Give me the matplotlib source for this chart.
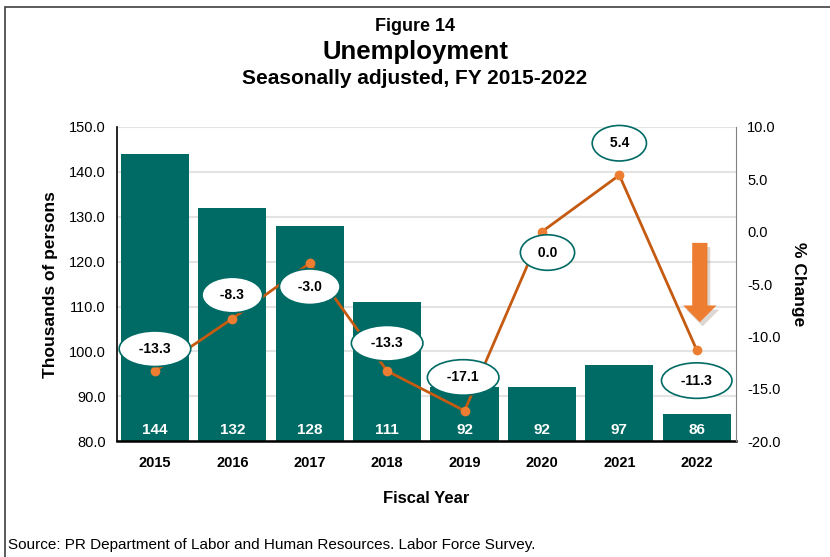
import numpy as np
import matplotlib.pyplot as plt
import matplotlib.patheffects as pe
from matplotlib.patches import Rectangle

plt.rcParams['font.family'] = ['Liberation Sans', 'DejaVu Sans']

years = ['2015', '2016', '2017', '2018', '2019', '2020', '2021', '2022']
unemployed = [144, 132, 128, 111, 92, 92, 97, 86]
pct_change = [-13.3, -8.3, -3.0, -13.3, -17.1, 0.0, 5.4, -11.3]
# label offsets (points) for the ellipse callouts
label_dx = [0, 0, 0, 0, -1, 4, 0, 0]
label_dy = [16, 17, -17, 20, 24, -15, 23, -22]

bar_color = '#006A64'
line_color = '#C55A11'
marker_color = '#ED7D31'

fig = plt.figure(figsize=(8.3, 5.57), dpi=100)
ax = fig.add_axes([0.141, 0.208, 0.746, 0.564])
x = np.arange(len(years))

bars = ax.bar(x, unemployed, width=0.88, color=bar_color, zorder=2)
for xi, v in zip(x, unemployed):
    ax.text(xi, 81.0, f'{v}', ha='center', va='bottom', color='white',
            fontsize=11, fontweight='bold', zorder=3)

ax.set_ylim(80, 150)
ax.set_yticks(np.arange(80, 151, 10))
ax.set_yticklabels([f'{t:.1f}' for t in np.arange(80, 151, 10)], fontsize=10.5)
ax.set_xlim(-0.49, 7.51)
ax.set_xticks(x)
ax.set_xticklabels(years, fontsize=10.5, fontweight='bold')
ax.tick_params(axis='x', length=0, pad=11)
ax.tick_params(axis='y', length=0, pad=8)
ax.grid(axis='y', color='#E3E3E3', linewidth=1.5, zorder=0)
ax.set_axisbelow(True)
for s in ['top', 'right']:
    ax.spines[s].set_visible(False)
ax.spines['left'].set_linewidth(1.2)
ax.spines['bottom'].set_linewidth(1.8)
ax.set_ylabel('Thousands of persons', fontsize=12.5, fontweight='bold', labelpad=8)
ax.set_xlabel('Fiscal Year', fontsize=12, fontweight='bold', labelpad=15)

ax2 = ax.twinx()
ax2.set_ylim(-20, 10)
ax2.set_yticks(np.arange(-20, 11, 5))
ax2.set_yticklabels([f'{t:.1f}' for t in np.arange(-20, 11, 5)], fontsize=10.5)
ax2.tick_params(axis='y', length=0, pad=8)
for s in ['top', 'left', 'bottom']:
    ax2.spines[s].set_visible(False)
ax2.spines['right'].set_color('#808080')
ax2.set_ylabel('% Change', fontsize=12.5, fontweight='bold', rotation=270, labelpad=18)

ax2.plot(x, pct_change, color=line_color, linewidth=2, marker='o',
         markersize=6, markerfacecolor=marker_color, markeredgecolor=marker_color, zorder=3)

for xi, v, dx, dy in zip(x, pct_change, label_dx, label_dy):
    ax2.annotate(f' {v:.1f} ', (xi, v), xytext=(dx, dy), textcoords='offset points',
                 ha='center', va='center', fontsize=10, fontweight='bold', zorder=5,
                 bbox=dict(boxstyle='ellipse,pad=0.4', fc='white', ec=bar_color, lw=1.2))

# downward arrow highlighting the last year
ax2.annotate('', xy=(x[-1] + 0.04, pct_change[-1] + 2.4), xytext=(x[-1] + 0.04, -0.8),
             arrowprops=dict(arrowstyle='simple,head_width=1.2,head_length=0.6,tail_width=0.55',
                             mutation_scale=20, fc=marker_color, ec='none',
                             path_effects=[pe.SimplePatchShadow(offset=(2, -3), alpha=0.18), pe.Normal()]),
             zorder=4)

fig.text(0.5, 0.953, 'Figure 14', ha='center', va='center', fontsize=13, fontweight='bold')
fig.text(0.5, 0.907, 'Unemployment', ha='center', va='center', fontsize=18.5, fontweight='bold')
fig.text(0.5, 0.859, 'Seasonally adjusted, FY 2015-2022', ha='center', va='center',
         fontsize=15, fontweight='bold')
fig.text(0.01, 0.022, 'Source: PR Department of Labor and Human Resources. Labor Force Survey.',
         ha='left', va='center', fontsize=11)

fig.patches.append(Rectangle((0.006, -0.05), 1.5, 1.037, transform=fig.transFigure,
                             fill=False, ec='#404040', lw=1.2))

fig.savefig('out.png', dpi=100)
